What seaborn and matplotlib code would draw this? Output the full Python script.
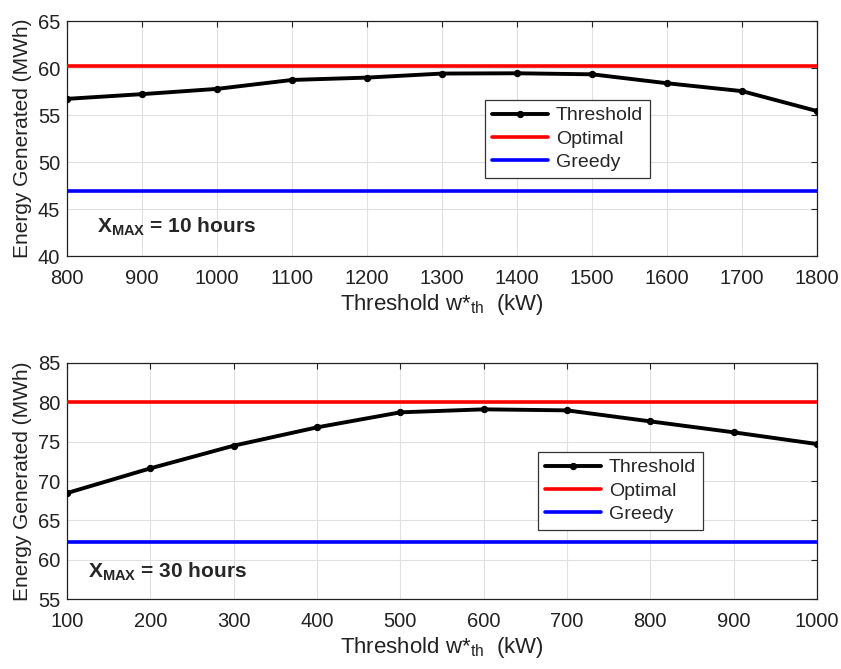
import numpy as np
import pandas as pd
import matplotlib
matplotlib.use("Agg")
import matplotlib.pyplot as plt
import seaborn as sns

# Top panel (X_MAX = 10 hours)
thr_top = [800, 900, 1000, 1100, 1200, 1300, 1400, 1500, 1600, 1700, 1800]
energy_top = [56.72, 57.22, 57.78, 58.73, 58.98, 59.41, 59.44, 59.33, 58.38, 57.54, 55.42]
optimal_top = 60.25
greedy_top = 46.9

# Bottom panel (X_MAX = 30 hours)
thr_bot = [100, 200, 300, 400, 500, 600, 700, 800, 900, 1000]
energy_bot = [68.47, 71.61, 74.49, 76.82, 78.73, 79.11, 78.98, 77.58, 76.19, 74.70]
optimal_bot = 80.1
greedy_bot = 62.25

sns.set_style("whitegrid")
plt.rcParams['font.family'] = ['Liberation Sans', 'DejaVu Sans']
plt.rcParams['mathtext.fontset'] = 'custom'
plt.rcParams['mathtext.rm'] = 'Liberation Sans'
plt.rcParams['mathtext.bf'] = 'Liberation Sans:bold'
plt.rcParams['mathtext.it'] = 'Liberation Sans:italic'

fig = plt.figure(figsize=(8.41, 6.69), dpi=100)
ax1 = fig.add_axes([0.0797, 0.6173, 0.8918, 0.3513])
ax2 = fig.add_axes([0.0797, 0.1046, 0.8918, 0.3528])

def draw(ax, thr, energy, opt, greedy, ylim, yticks, label, leg_anchor, txt_pos):
    df = pd.DataFrame({"thr": thr, "energy": energy})
    sns.lineplot(data=df, x="thr", y="energy", ax=ax, color="black", lw=2.8,
                 marker="o", markersize=4.5, markeredgecolor="black", label="Threshold",
                 zorder=5)
    ax.axhline(opt, color="#ff0000", lw=2.6, label="Optimal", zorder=4)
    ax.axhline(greedy, color="#0000ff", lw=2.6, label="Greedy", zorder=4)
    ax.set_xlim(thr[0], thr[-1])
    ax.set_xticks(thr)
    ax.set_ylim(*ylim)
    ax.set_yticks(yticks)
    ax.grid(True, color="#e0e0e0", lw=0.8)
    for s in ax.spines.values():
        s.set_color("#222222")
        s.set_linewidth(0.9)
    ax.tick_params(axis="both", labelsize=14.5, colors="#222222", direction="in",
                   length=4, width=0.8, pad=5, top=True, right=True)
    ax.tick_params(axis="x", pad=9)
    ax.set_xlabel(r"Threshold w*$_{\mathregular{th}}$  (kW)", fontsize=16, color="#222222", labelpad=3)
    ax.set_ylabel("Energy Generated (MWh)", fontsize=15, color="#222222", labelpad=4)
    ax.text(txt_pos[0], txt_pos[1], r"$\mathbf{X_{MAX}}$ = " + label, transform=ax.transAxes,
            fontsize=15, fontweight="bold", va="baseline", ha="left")
    leg = ax.legend(loc="upper left", bbox_to_anchor=leg_anchor, fontsize=14,
                    frameon=True, fancybox=False, handlelength=2.9, borderpad=0.35,
                    labelspacing=0.3, handletextpad=0.4, borderaxespad=0)
    leg.get_frame().set_edgecolor("#333333")
    leg.get_frame().set_linewidth(0.9)
    leg.get_frame().set_alpha(1)

draw(ax1, thr_top, energy_top, optimal_top, greedy_top, (40, 65), list(range(40, 66, 5)),
     "10 hours", (0.557, 0.664), (0.04, 0.098))
draw(ax2, thr_bot, energy_bot, optimal_bot, greedy_bot, (55, 85), list(range(55, 86, 5)),
     "30 hours", (0.628, 0.623), (0.028, 0.09))

fig.savefig("out.png", dpi=100)
